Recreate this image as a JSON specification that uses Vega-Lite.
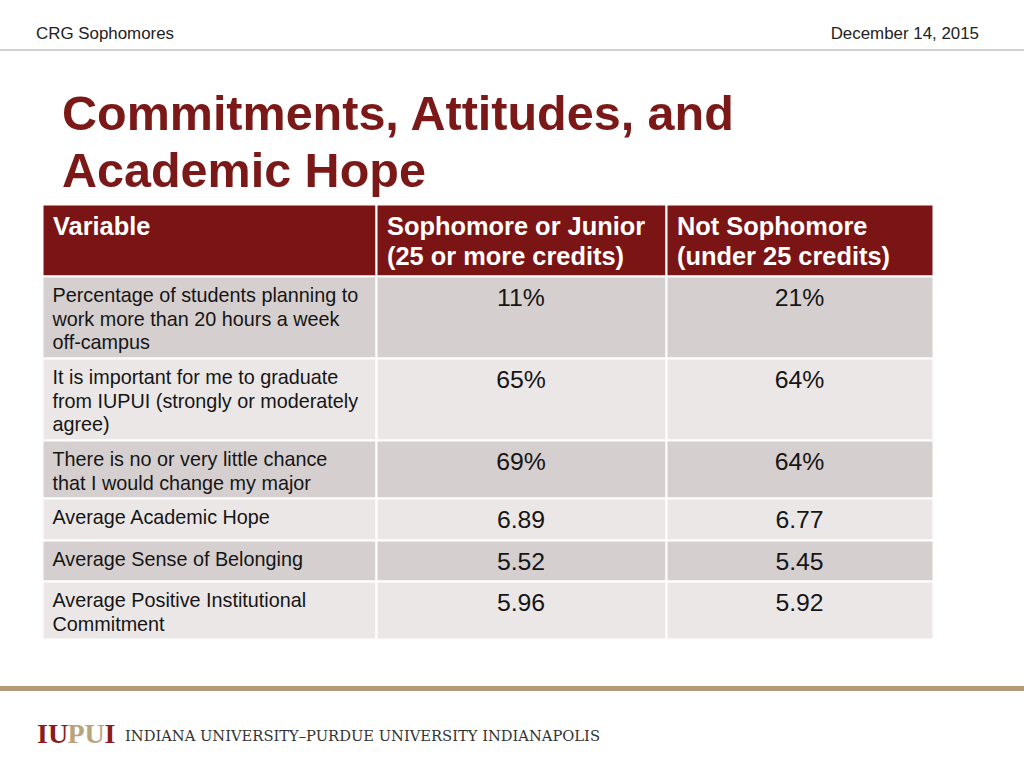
{
  "$schema": "https://vega.github.io/schema/vega-lite/v6.json",
  "autosize": {"type": "none"},
  "width": 1024,
  "height": 768,
  "padding": 0,
  "background": "white",
  "config": {"view": {"stroke": null}, "text": {"font": "Liberation Sans"}},
  "datasets": {
    "cells": [
      {"row": 0, "col": 0, "text": "Variable"},
      {"row": 0, "col": 1, "text": "Sophomore or Junior\n(25 or more credits)"},
      {"row": 0, "col": 2, "text": "Not Sophomore\n(under 25 credits)"},
      {"row": 1, "col": 0, "text": "Percentage of students planning to\nwork more than 20 hours a week\noff-campus"},
      {"row": 1, "col": 1, "text": "11%"},
      {"row": 1, "col": 2, "text": "21%"},
      {"row": 2, "col": 0, "text": "It is important for me to graduate\nfrom IUPUI (strongly or  moderately\nagree)"},
      {"row": 2, "col": 1, "text": "65%"},
      {"row": 2, "col": 2, "text": "64%"},
      {"row": 3, "col": 0, "text": "There is no or very little chance\nthat I would change my major"},
      {"row": 3, "col": 1, "text": "69%"},
      {"row": 3, "col": 2, "text": "64%"},
      {"row": 4, "col": 0, "text": "Average Academic Hope"},
      {"row": 4, "col": 1, "text": "6.89"},
      {"row": 4, "col": 2, "text": "6.77"},
      {"row": 5, "col": 0, "text": "Average Sense of Belonging"},
      {"row": 5, "col": 1, "text": "5.52"},
      {"row": 5, "col": 2, "text": "5.45"},
      {"row": 6, "col": 0, "text": "Average Positive Institutional\nCommitment"},
      {"row": 6, "col": 1, "text": "5.96"},
      {"row": 6, "col": 2, "text": "5.92"}
    ],
    "slide": [
      {"part": "header", "label": "CRG Sophomores"},
      {"part": "date", "label": "December 14, 2015"},
      {"part": "title", "label": "Commitments, Attitudes, and\nAcademic Hope"},
      {"part": "logo1", "label": "IU"},
      {"part": "logo2", "label": "PU"},
      {"part": "logo3", "label": "I"},
      {"part": "org", "label": "INDIANA UNIVERSITY–PURDUE UNIVERSITY INDIANAPOLIS"},
      {"part": "topline", "label": ""},
      {"part": "bottomline", "label": ""}
    ]
  },
  "layer": [
    {
      "data": {"name": "cells"},
      "mark": {"type": "rect", "stroke": "white", "strokeWidth": 2},
      "encoding": {
        "x": {"field": "col", "type": "quantitative", "bin": {"step": 1, "extent": [0, 3]},
              "scale": {"domain": [0, 1, 2, 3], "range": [42, 376, 666, 933], "nice": false, "zero": false}, "axis": null},
        "y": {"field": "row", "type": "quantitative", "bin": {"step": 1, "extent": [0, 7]},
              "scale": {"domain": [0, 1, 2, 3, 4, 5, 6, 7], "range": [204, 276, 358, 440, 498, 540, 581, 639], "nice": false, "zero": false}, "axis": null},
        "color": {"field": "row", "type": "ordinal",
                  "scale": {"domain": [0, 1, 2, 3, 4, 5, 6], "range": ["#7b1414", "#d6cfcf", "#ebe7e7", "#d6cfcf", "#ebe7e7", "#d6cfcf", "#ebe7e7"]},
                  "legend": null}
      }
    },
    {
      "data": {"name": "cells"},
      "transform": [{"filter": "datum.row == 0"}],
      "mark": {"type": "text", "align": "left", "baseline": "alphabetic", "dx": 11, "dy": 30.5,
               "fontSize": 25.4, "fontWeight": "bold", "color": "white", "lineBreak": "\n", "lineHeight": 30.5},
      "encoding": {
        "x": {"field": "col", "type": "quantitative", "axis": null},
        "y": {"field": "row", "type": "quantitative", "axis": null},
        "text": {"field": "text"}
      }
    },
    {
      "data": {"name": "cells"},
      "transform": [{"filter": "datum.row > 0 && datum.col == 0"}],
      "mark": {"type": "text", "align": "left", "baseline": "alphabetic", "dx": 10.5, "dy": 26,
               "fontSize": 19.8, "color": "#151515", "lineBreak": "\n", "lineHeight": 23.5},
      "encoding": {
        "x": {"field": "col", "type": "quantitative", "axis": null},
        "y": {"field": "row", "type": "quantitative", "axis": null},
        "text": {"field": "text"}
      }
    },
    {
      "data": {"name": "cells"},
      "transform": [{"filter": "datum.row > 0 && datum.col > 0"}],
      "mark": {"type": "text", "align": "center", "baseline": "alphabetic", "dy": 29.5,
               "fontSize": 24.8, "color": "#151515"},
      "encoding": {
        "x": {"field": "col", "type": "quantitative", "bin": {"step": 1, "extent": [0, 3]}, "axis": null},
        "y": {"field": "row", "type": "quantitative", "axis": null},
        "text": {"field": "text"}
      }
    },
    {
      "data": {"name": "slide"},
      "transform": [{"filter": "datum.part == 'header'"}],
      "mark": {"type": "text", "align": "left", "baseline": "alphabetic", "fontSize": 16.9, "color": "#222222"},
      "encoding": {"x": {"value": 36}, "y": {"value": 39}, "text": {"field": "label"}}
    },
    {
      "data": {"name": "slide"},
      "transform": [{"filter": "datum.part == 'date'"}],
      "mark": {"type": "text", "align": "right", "baseline": "alphabetic", "fontSize": 16.9, "color": "#222222"},
      "encoding": {"x": {"value": 979}, "y": {"value": 39}, "text": {"field": "label"}}
    },
    {
      "data": {"name": "slide"},
      "transform": [{"filter": "datum.part == 'topline'"}],
      "mark": {"type": "rule", "color": "#c2c2c2", "strokeWidth": 1.5},
      "encoding": {"x": {"value": 0}, "x2": {"value": 1024}, "y": {"value": 50}}
    },
    {
      "data": {"name": "slide"},
      "transform": [{"filter": "datum.part == 'title'"}],
      "mark": {"type": "text", "align": "left", "baseline": "alphabetic", "fontSize": 48.5, "fontWeight": "bold",
               "color": "#7b1818", "lineBreak": "\n", "lineHeight": 57.5},
      "encoding": {"x": {"value": 62}, "y": {"value": 129.5}, "text": {"field": "label"}}
    },
    {
      "data": {"name": "slide"},
      "transform": [{"filter": "datum.part == 'bottomline'"}],
      "mark": {"type": "rule", "color": "#b49a76", "strokeWidth": 5},
      "encoding": {"x": {"value": 0}, "x2": {"value": 1024}, "y": {"value": 688.5}}
    },
    {
      "data": {"name": "slide"},
      "transform": [{"filter": "datum.part == 'logo1'"}],
      "mark": {"type": "text", "align": "left", "baseline": "alphabetic", "font": "Liberation Serif", "fontSize": 28, "fontWeight": "bold", "color": "#8a1c1c"},
      "encoding": {"x": {"value": 37}, "y": {"value": 743}, "text": {"field": "label"}}
    },
    {
      "data": {"name": "slide"},
      "transform": [{"filter": "datum.part == 'logo2'"}],
      "mark": {"type": "text", "align": "left", "baseline": "alphabetic", "font": "Liberation Serif", "fontSize": 28, "fontWeight": "bold", "color": "#b9a27e"},
      "encoding": {"x": {"value": 67.5}, "y": {"value": 743}, "text": {"field": "label"}}
    },
    {
      "data": {"name": "slide"},
      "transform": [{"filter": "datum.part == 'logo3'"}],
      "mark": {"type": "text", "align": "left", "baseline": "alphabetic", "font": "Liberation Serif", "fontSize": 28, "fontWeight": "bold", "color": "#8a1c1c"},
      "encoding": {"x": {"value": 104.5}, "y": {"value": 743}, "text": {"field": "label"}}
    },
    {
      "data": {"name": "slide"},
      "transform": [{"filter": "datum.part == 'org'"}],
      "mark": {"type": "text", "align": "left", "baseline": "alphabetic", "font": "DejaVu Serif", "fontSize": 14.7, "color": "#333333"},
      "encoding": {"x": {"value": 125}, "y": {"value": 741}, "text": {"field": "label"}}
    }
  ]
}
